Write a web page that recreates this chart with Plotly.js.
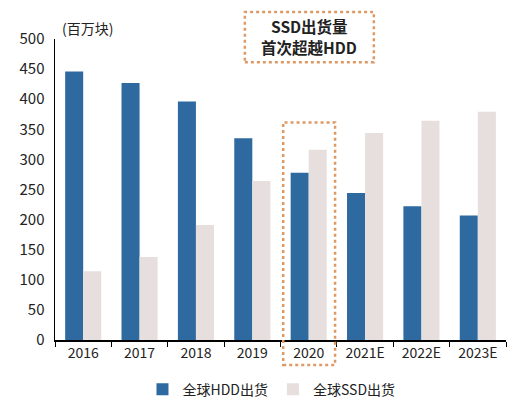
<!DOCTYPE html>
<html>
<head>
<meta charset="utf-8">
<script src="https://cdn.plot.ly/plotly-3.0.1.min.js"></script>
<style>
  body { margin: 0; }
  #chart { width: 520px; height: 400px; }
</style>
</head>
<body>
<div id="chart"></div>
<script>
// categories and shipment values (millions of units)
var years = ['2016', '2017', '2018', '2019', '2020', '2021E', '2022E', '2023E'];
var hddShip = [446, 427, 396, 335, 278, 244, 222, 207];
var ssdShip = [114, 138, 191, 264, 316, 344, 364, 379];
var seriesNames = ['全球HDD出货', '全球SSD出货'];
var calloutLines = ['SSD出货量', '首次超越HDD'];

var fontFam = '"Noto Sans CJK SC", "Noto Sans", sans-serif';
var dashColor = '#DD9A66';

var data = [
  {
    x: years,
    y: hddShip,
    name: seriesNames[0],
    type: 'bar',
    marker: {color: '#2E6A9F'}
  },
  {
    x: years,
    y: ssdShip,
    name: seriesNames[1],
    type: 'bar',
    marker: {color: '#E6DFDD'}
  }
];

var layout = {
  width: 520,
  height: 400,
  margin: {l: 55, r: 14, t: 39, b: 60, autoexpand: false},
  paper_bgcolor: '#fff',
  plot_bgcolor: '#fff',
  font: {family: fontFam, color: '#222', size: 14},
  barmode: 'group',
  bargap: 0.36,
  bargroupgap: 0,
  showlegend: true,
  legend: {
    orientation: 'h',
    x: 0.48, xanchor: 'center',
    y: -0.165, yanchor: 'middle',
    font: {size: 14},
    itemwidth: 30,
    tracegroupgap: 0
  },
  xaxis: {
    type: 'category',
    showline: true,
    linecolor: '#000',
    linewidth: 1.5,
    ticks: 'outside',
    tickson: 'boundaries',
    ticklen: 5,
    tickcolor: '#000',
    showgrid: false,
    tickfont: {size: 14}
  },
  yaxis: {
    range: [0, 500],
    dtick: 50,
    showline: true,
    linecolor: '#000',
    linewidth: 1.5,
    ticks: '',
    showgrid: false,
    zeroline: false,
    ticklabelstandoff: 6,
    tickfont: {size: 15}
  },
  shapes: [
    // callout box
    {type: 'rect', xref: 'paper', yref: 'paper',
     x0: 0.421, x1: 0.707, y0: 0.923, y1: 1.09,
     line: {color: dashColor, width: 2.5, dash: 'dot'}},
    // box around 2020
    {type: 'rect', xref: 'paper', yref: 'paper',
     x0: 0.506, x1: 0.621, y0: -0.083, y1: 0.723,
     line: {color: dashColor, width: 2.5, dash: 'dot'}}
  ],
  annotations: [
    {xref: 'paper', yref: 'paper', x: 0.564, y: 1.042,
     text: '<b>' + calloutLines[0] + '</b>',
     showarrow: false, font: {size: 15.5, color: '#222'}, borderpad: 0,
     xanchor: 'center', yanchor: 'middle'},
    {xref: 'paper', yref: 'paper', x: 0.564, y: 0.972,
     text: '<b>' + calloutLines[1] + '</b>',
     showarrow: false, font: {size: 15.5, color: '#222'}, borderpad: 0,
     xanchor: 'center', yanchor: 'middle'},
    {xref: 'paper', yref: 'paper', x: 0.012, y: 1.037,
     text: '(百万块)', showarrow: false,
     font: {size: 14, color: '#222'},
     xanchor: 'left', yanchor: 'middle'}
  ]
};

Plotly.newPlot('chart', data, layout, {displayModeBar: false, staticPlot: true});
</script>
</body>
</html>
